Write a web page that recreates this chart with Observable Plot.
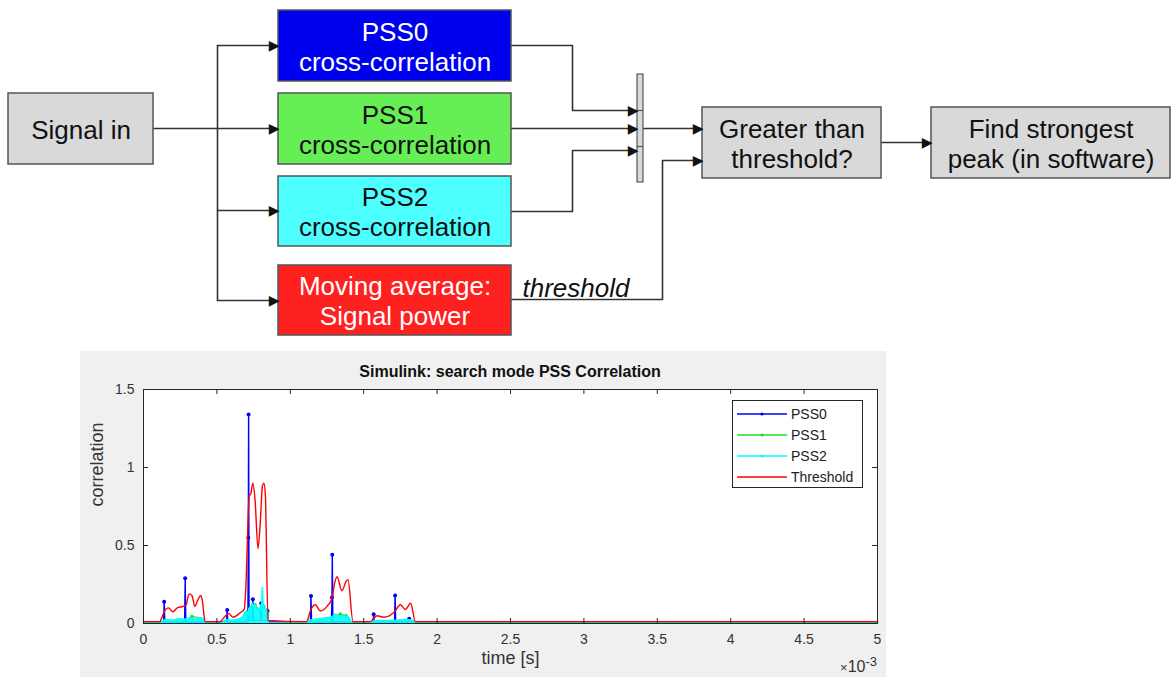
<!DOCTYPE html>
<html>
<head>
<meta charset="utf-8">
<script src="https://cdn.jsdelivr.net/npm/d3@7"></script>
<script src="https://cdn.jsdelivr.net/npm/@observablehq/plot@0.6"></script>
<style>
  body { margin: 0; background: #fff; font-family: "Liberation Sans", Arial, sans-serif; }
  #page { position: relative; width: 1172px; height: 677px; background: #fff; overflow: hidden; }
  #diagram { position: absolute; left: 0; top: 0; }
  #panel { position: absolute; left: 80px; top: 351px; width: 806px; height: 326px; background: #f0f0f0; }
  #title { position: absolute; left: 63px; top: 12px; width: 734px; text-align: center; font: bold 16px "Liberation Sans", Arial, sans-serif; line-height: 18px; color: #111; }
  #chart { position: absolute; left: 0; top: 29px; }
  #expo { position: absolute; right: 9px; top: 307px; font: 16px "Liberation Sans", Arial, sans-serif; line-height: 18px; color: #333; white-space: nowrap; }
  #expo .times { font-size: 13px; }
  #expo sup { font-size: 13px; vertical-align: 6px; line-height: 0; }
  #legend { position: absolute; left: 652px; top: 49px; width: 131px; height: 88px; box-sizing: border-box; border: 1px solid #262626; background: #fff; }
  .lg { position: absolute; left: 0; height: 20px; display: flex; align-items: center; font: 14px "Liberation Sans", Arial, sans-serif; color: #222; }
  .lg svg { margin-left: 4px; margin-right: 4px; }
</style>
</head>
<body>
<div id="page">
  <div id="diagram"></div>
  <div id="panel">
    <div id="title"></div>
    <div id="chart"></div>
    <div id="expo"><span class="times">×</span>10<sup>-3</sup></div>
    <div id="legend"></div>
  </div>
</div>
<script>
// ---------------- Diagram content ----------------
const boxLabels = [
  "Signal in",
  "PSS0\ncross-correlation",
  "PSS1\ncross-correlation",
  "PSS2\ncross-correlation",
  "Moving average:\nSignal power",
  "Greater than\nthreshold?",
  "Find strongest\npeak (in software)"
];
const boxFills = ["#d9d9d9", "#0000f0", "#66ee55", "#4dffff", "#ff2020", "#d9d9d9", "#d9d9d9"];
const boxTextColors = ["#111", "#ffffff", "#111", "#111", "#ffffff", "#111", "#111"];
const wireLabel = "threshold";

// layout of the diagram (pixel space)
const boxLayout = [
  [8, 153, 93, 164],
  [278, 511, 10, 81],
  [278, 511, 93, 164],
  [278, 511, 176, 246],
  [278, 511, 265, 335],
  [702, 881, 107, 178],
  [931, 1170, 107, 178]
];
const wireLayout = [
  [[153, 128], [278, 128]],
  [[217, 45], [217, 300]],
  [[217, 45], [278, 45]],
  [[217, 210], [278, 210]],
  [[217, 300], [278, 300]],
  [[511, 45], [572, 45], [572, 110], [637, 110]],
  [[511, 128], [637, 128]],
  [[511, 211], [572, 211], [572, 150], [637, 150]],
  [[643, 128], [702, 128]],
  [[511, 299], [662, 299], [662, 160], [702, 160]],
  [[881, 142], [931, 142]]
];
const arrowTips = [[278, 45], [278, 128], [278, 210], [278, 300], [637, 110], [637, 128], [637, 150], [702, 128], [702, 160], [931, 142]];
const muxLayout = {x1: 637, x2: 643, y1: 74, y2: 182, ticks: [110, 146]};
const wireLabelLayout = {x: 522, y: 288};

const boxes = boxLabels.map((label, i) => ({
  label, fill: boxFills[i], color: boxTextColors[i],
  x1: boxLayout[i][0], x2: boxLayout[i][1], y1: boxLayout[i][2], y2: boxLayout[i][3]
}));
const wirePts = wireLayout.flatMap((pts, id) => pts.map(([x, y]) => ({id, x, y})));
const tips = arrowTips.map(([x, y]) => ({x, y}));

const diagram = Plot.plot({
  width: 1172, height: 345, margin: 0,
  x: {domain: [0, 1172], range: [0, 1172], axis: null},
  y: {domain: [0, 345], range: [0, 345], axis: null},
  color: {type: "identity"},
  style: {fontFamily: "Liberation Sans, Arial, sans-serif", background: "white", overflow: "visible"},
  marks: [
    Plot.line(wirePts, {x: "x", y: "y", z: "id", stroke: "#333", strokeWidth: 1.6, curve: "linear"}),
    Plot.rect(boxes, {x1: "x1", x2: "x2", y1: "y1", y2: "y2", fill: "fill", stroke: "#555", strokeWidth: 1.5}),
    Plot.rect([muxLayout], {x1: "x1", x2: "x2", y1: "y1", y2: "y2", fill: "#d9d9d9", stroke: "#555", strokeWidth: 1.2}),
    Plot.ruleY(muxLayout.ticks, {y: d => d, x1: muxLayout.x1, x2: muxLayout.x2, stroke: "#555", strokeWidth: 1.2}),
    Plot.text(tips, {x: "x", y: "y", text: () => "\u25B6", textAnchor: "end", fontSize: 14, fill: "#111", dx: 1, fontFamily: "DejaVu Sans"}),
    Plot.text(boxes, {x: d => (d.x1 + d.x2) / 2, y: d => (d.y1 + d.y2) / 2, text: "label", fill: "color",
      fontSize: 26, lineHeight: 1.15}),
    Plot.text([wireLabel], {x: wireLabelLayout.x, y: wireLabelLayout.y, text: d => d, textAnchor: "start",
      fontSize: 26, fontStyle: "italic", fill: "#111"})
  ]
});
document.getElementById("diagram").append(diagram);

// ---------------- Chart data (time in units of 10^-3 s) ----------------
const chartTitle = "Simulink: search mode PSS Correlation";
const xTicks = [0, 0.5, 1, 1.5, 2, 2.5, 3, 3.5, 4, 4.5, 5];
const yTicks = [0, 0.5, 1, 1.5];
const seriesNames = ["PSS0", "PSS1", "PSS2", "Threshold"];
const seriesColors = ["#0000ff", "#22dd22", "#00ffff", "#ff0000"];

const pss0Time = [0, 0.137, 0.141, 0.145, 0.280, 0.284, 0.288, 0.566, 0.570, 0.574, 0.711, 0.714, 0.716, 0.719,
  0.741, 0.745, 0.749, 0.798, 0.802, 0.806, 0.841, 0.845, 0.849, 1.137, 1.141, 1.145, 1.280, 1.284, 1.286, 1.290,
  1.564, 1.568, 1.572, 1.710, 1.714, 1.718, 1.806, 1.810, 1.814, 5];
const pss0Value = [0.01, 0.01, 0.14, 0.01, 0.01, 0.29, 0.01, 0.01, 0.086, 0.01, 0.01, 0.55, 1.34, 0.02,
  0.02, 0.156, 0.02, 0.02, 0.13, 0.02, 0.02, 0.08, 0.01, 0.01, 0.176, 0.01, 0.01, 0.167, 0.44, 0.01,
  0.01, 0.06, 0.01, 0.01, 0.18, 0.01, 0.01, 0.03, 0.01, 0.01];

const pss1Time = [0, 0.13, 0.2, 0.3, 0.33, 0.37, 0.41, 0.42, 0.68, 0.72, 0.73, 0.76, 0.79, 0.82, 0.845, 0.85,
  1.12, 1.3, 1.34, 1.38, 1.42, 1.8, 1.82, 1.84, 5];
const pss1Value = [0.002, 0.002, 0.02, 0.03, 0.045, 0.04, 0.03, 0.002, 0.002, 0.06, 0.1, 0.12, 0.08, 0.11, 0.06, 0.002,
  0.002, 0.04, 0.06, 0.05, 0.002, 0.002, 0.02, 0.002, 0.002];

const pss2Time = [0, 0.12, 0.13, 0.16, 0.2, 0.24, 0.28, 0.31, 0.35, 0.38, 0.41, 0.42, 0.54, 0.55, 0.58, 0.6, 0.63,
  0.66, 0.68, 0.69, 0.70, 0.71, 0.72, 0.73, 0.74, 0.75, 0.76, 0.77, 0.78, 0.79, 0.80, 0.805, 0.81, 0.815, 0.82,
  0.83, 0.84, 0.845, 0.85, 1.11, 1.12, 1.16, 1.2, 1.24, 1.28, 1.31, 1.33, 1.36, 1.4, 1.42, 1.54, 1.55, 1.62, 1.7,
  1.78, 1.84, 1.85, 5];
const pss2Value = [0.002, 0.002, 0.02, 0.025, 0.02, 0.03, 0.025, 0.035, 0.03, 0.035, 0.03, 0.002, 0.002, 0.02, 0.025,
  0.02, 0.025, 0.03, 0.05, 0.07, 0.08, 0.06, 0.1, 0.09, 0.13, 0.11, 0.12, 0.09, 0.1, 0.08, 0.12, 0.1, 0.23, 0.11, 0.12,
  0.1, 0.09, 0.08, 0.002, 0.002, 0.02, 0.025, 0.03, 0.035, 0.04, 0.06, 0.045, 0.05, 0.04, 0.002, 0.002, 0.015, 0.02,
  0.02, 0.025, 0.02, 0.002, 0.002];

const thrTime = [0, 0.11, 0.13, 0.15, 0.17, 0.2, 0.23, 0.27, 0.29, 0.31, 0.33, 0.35, 0.37, 0.39, 0.40, 0.42,
  0.52, 0.55, 0.58, 0.61, 0.66, 0.686, 0.70, 0.71, 0.72, 0.73, 0.745, 0.76, 0.78, 0.795, 0.81, 0.82, 0.83, 0.848,
  1.11, 1.14, 1.17, 1.205, 1.25, 1.284, 1.30, 1.318, 1.352, 1.38, 1.393, 1.427,
  1.545, 1.59, 1.636, 1.705, 1.75, 1.784, 1.82, 1.852, 5];
const thrValue = [0.012, 0.012, 0.05, 0.09, 0.1, 0.075, 0.1, 0.11, 0.12, 0.19, 0.18, 0.11, 0.15, 0.18, 0.15, 0.012,
  0.012, 0.04, 0.065, 0.04, 0.07, 0.09, 0.3, 0.6, 0.82, 0.83, 0.9, 0.79, 0.48, 0.64, 0.88, 0.9, 0.83, 0.02,
  0.012, 0.09, 0.12, 0.08, 0.11, 0.16, 0.25, 0.30, 0.21, 0.27, 0.28, 0.012,
  0.012, 0.05, 0.04, 0.07, 0.12, 0.09, 0.13, 0.012, 0.012];

const toRows = (ts, vs) => ts.map((t, i) => ({t, v: vs[i]}));
const pss0 = toRows(pss0Time, pss0Value);
const pss1 = toRows(pss1Time, pss1Value);
const pss2 = toRows(pss2Time, pss2Value);
const thr = toRows(thrTime, thrValue);

document.getElementById("title").textContent = chartTitle;

const W = 806, H = 297, mL = 63, mR = 9, mT = 9, mB = 54;
const plotW = W - mL - mR, plotH = H - mT - mB;
const axisColor = "#262626";

const chart = Plot.plot({
  width: W, height: H,
  marginLeft: mL, marginRight: mR, marginTop: mT, marginBottom: mB,
  x: {domain: [0, 5]},
  y: {domain: [0, 1.5]},
  style: {fontFamily: "Liberation Sans, Arial, sans-serif", fontSize: "14px", background: "transparent", color: "#333", overflow: "visible"},
  marks: [
    Plot.frame({fill: "white"}),
    Plot.line(pss0, {x: "t", y: "v", stroke: seriesColors[0], strokeWidth: 1.4}),
    Plot.dot(pss0.filter(d => d.v > 0.02), {x: "t", y: "v", r: 2, fill: seriesColors[0]}),
    Plot.line(pss1, {x: "t", y: "v", stroke: seriesColors[1], strokeWidth: 1.2}),
    Plot.dot(pss1.filter(d => d.v > 0.04), {x: "t", y: "v", r: 1.8, fill: seriesColors[1]}),
    Plot.areaY(pss2, {x: "t", y: "v", fill: seriesColors[2], fillOpacity: 0.9}),
    Plot.line(pss2, {x: "t", y: "v", stroke: seriesColors[2], strokeWidth: 1.5}),
    Plot.line(thr, {x: "t", y: "v", stroke: seriesColors[3], strokeWidth: 1.4, curve: "monotone-x"}),
    // inward ticks on all four sides (MATLAB box)
    Plot.tickX(xTicks, {x: d => d, insetTop: plotH - 5, stroke: axisColor}),
    Plot.tickX(xTicks, {x: d => d, insetBottom: plotH - 5, stroke: axisColor}),
    Plot.tickY(yTicks, {y: d => d, insetRight: plotW - 5, stroke: axisColor}),
    Plot.tickY(yTicks, {y: d => d, insetLeft: plotW - 5, stroke: axisColor}),
    Plot.frame({stroke: axisColor, strokeWidth: 1}),
    Plot.axisX(xTicks, {tickSize: 0, tickPadding: 11, tickFormat: d => String(d), fontSize: 14, label: null, fill: "#333"}),
    Plot.axisY(yTicks, {tickSize: 0, tickPadding: 9, tickFormat: d => String(d), fontSize: 14, label: null, fill: "#333"}),
    Plot.text(["time [s]"], {frameAnchor: "bottom", dy: 40, text: d => d, fontSize: 18, fill: "#333"}),
    Plot.text(["correlation"], {frameAnchor: "left", dx: -46, rotate: -90, text: d => d, fontSize: 18, fill: "#333"})
  ]
});
document.getElementById("chart").append(chart);

// legend
const legend = document.getElementById("legend");
seriesNames.forEach((name, i) => {
  const row = document.createElement("div");
  row.className = "lg";
  row.style.top = (3 + i * 21) + "px";
  const marker = i < 3 ? `<circle cx="25" cy="5" r="1.6" fill="${seriesColors[i]}"/>` : "";
  row.innerHTML = `<svg width="50" height="10"><line x1="0" y1="5" x2="50" y2="5" stroke="${seriesColors[i]}" stroke-width="1.4"/>${marker}</svg><span>${name}</span>`;
  legend.append(row);
});
</script>
</body>
</html>
